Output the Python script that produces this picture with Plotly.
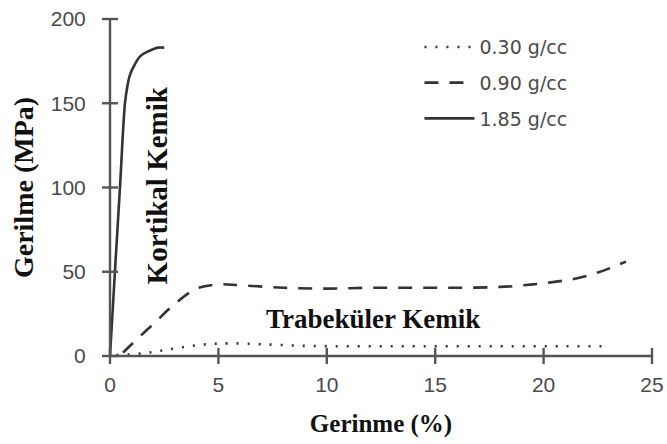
import plotly.graph_objects as go

# ---- data ----
x_030 = [0.3, 1.5, 2.5, 3.5, 4.5, 5.5, 7, 9, 11, 13, 15, 17, 19, 21, 23]
y_030 = [0.5, 1.5, 3.5, 5.5, 7.0, 7.5, 7.0, 6.0, 5.8, 5.8, 5.8, 5.8, 5.8, 5.8, 5.8]

x_090 = [0.6, 1.0, 2.0, 3.0, 4.0, 5.0, 6.0, 8.0, 10.0, 12.0, 14.0, 16.0, 18.0, 19.5, 20.5, 21.5, 22.5, 23.8]
y_090 = [2, 7, 19, 31, 40, 42.5, 42, 40.5, 40, 40.5, 40.5, 40.5, 41, 42.5, 44, 46, 49.5, 56]

x_185 = [0.0, 0.25, 0.46, 0.69, 0.8, 0.9, 1.1, 1.4, 1.8, 2.2, 2.5]
y_185 = [0, 55, 100, 150, 160, 166, 172, 178, 181, 183, 183]

names = ["0.30 g/cc", "0.90 g/cc", "1.85 g/cc"]
x_ticks = [0, 5, 10, 15, 20, 25]
y_ticks = [0, 50, 100, 150, 200]

line_col = "#333333"
axis_col = "#555555"
tick_font = dict(family="Liberation Sans, Arial, sans-serif", size=21, color="#4a4a4a")
serif_bold = "Liberation Serif, Times New Roman, serif"

W, H = 667, 444
M = dict(l=110, r=15, t=19, b=88)
xr = [x_ticks[0], x_ticks[-1]]
yr = [y_ticks[0], y_ticks[-1]]
TICK_PX = 8

fig = go.Figure()
fig.add_trace(go.Scatter(x=x_030, y=y_030, mode="lines", name=names[0], legendgroup="a",
                         line=dict(color=line_col, width=2.6, dash="2px,9px", shape="spline")))
fig.add_trace(go.Scatter(x=x_090, y=y_090, mode="lines", name=names[1], legendgroup="b",
                         line=dict(color=line_col, width=2.6, dash="14px,11px", shape="spline")))
fig.add_trace(go.Scatter(x=x_185, y=y_185, mode="lines", name=names[2], legendgroup="c",
                         line=dict(color=line_col, width=2.6, shape="spline")))

# axis lines and crossing tick marks as unclipped paper-referenced shapes, from the tick arrays
axis_line = dict(color=axis_col, width=2.4)
shapes = [
    dict(type="line", xref="paper", yref="paper", x0=0, x1=1, y0=0, y1=0, line=axis_line, layer="above"),
    dict(type="line", xref="paper", yref="paper", x0=0, x1=0, y0=0, y1=1, line=axis_line, layer="above"),
]
for t in x_ticks:
    fx = (t - xr[0]) / (xr[1] - xr[0])
    shapes.append(dict(type="line", xref="paper", yref="paper", x0=fx, x1=fx,
                       ysizemode="pixel", yanchor=0, y0=-TICK_PX, y1=TICK_PX,
                       line=axis_line, layer="above"))
for t in y_ticks:
    fy = (t - yr[0]) / (yr[1] - yr[0])
    shapes.append(dict(type="line", xref="paper", yref="paper", y0=fy, y1=fy,
                       xsizemode="pixel", xanchor=0, x0=-TICK_PX, x1=TICK_PX,
                       line=axis_line, layer="above"))

fig.update_layout(
    width=W, height=H,
    margin=dict(**M, autoexpand=False),
    paper_bgcolor="white", plot_bgcolor="white",
    shapes=shapes,
    xaxis=dict(range=xr, tickvals=x_ticks, showgrid=False, zeroline=False, showline=False,
               ticks="outside", ticklen=TICK_PX, tickwidth=2, tickcolor="rgba(0,0,0,0)",
               automargin=False, tickfont=tick_font, ticklabelstandoff=2, ticklabeloverflow="allow",
               title=dict(text="<b>Gerinme (%)</b>", standoff=19,
                          font=dict(family=serif_bold, size=25, color="#111111"))),
    yaxis=dict(range=yr, tickvals=y_ticks, showgrid=False, zeroline=False, showline=False,
               ticks="outside", ticklen=TICK_PX, tickwidth=2, tickcolor="rgba(0,0,0,0)",
               automargin=False, tickfont=tick_font, ticklabelstandoff=11, ticklabeloverflow="allow",
               title=dict(text="<b>Gerilme (MPa)</b>", standoff=8,
                          font=dict(family=serif_bold, size=28, color="#111111"))),
    legend=dict(x=0.571, y=0.973, xanchor="left", yanchor="top", bgcolor="rgba(0,0,0,0)",
                font=dict(family="DejaVu Sans, sans-serif", size=19, color="#4a4a4a"),
                tracegroupgap=8, itemwidth=50),
    showlegend=True,
    annotations=[
        dict(text="<b>Kortikal Kemik</b>", x=2.15, y=101, xref="x", yref="y", textangle=-90,
             showarrow=False, font=dict(family=serif_bold, size=29, color="#111111")),
        dict(text="<b>Trabeküler Kemik</b>", x=12.15, y=22, xref="x", yref="y",
             showarrow=False, font=dict(family=serif_bold, size=27, color="#111111")),
    ],
)

fig.write_html("out.html", config={"displayModeBar": False},
               post_script="document.body.style.margin='0';document.body.style.overflow='hidden';")
